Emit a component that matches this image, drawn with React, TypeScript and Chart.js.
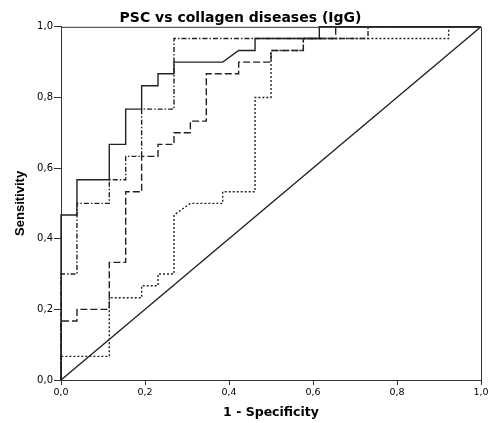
import React, { useEffect, useRef } from "react";
import { Chart, registerables } from "chart.js";

Chart.register(...registerables);

const chartTitle = "PSC vs collagen diseases (IgG)";
const xTitle = "1 - Specificity";
const yTitle = "Sensitivity";

const tickValues = [0, 0.2, 0.4, 0.6, 0.8, 1.0];
const tickLabels = ["0,0", "0,2", "0,4", "0,6", "0,8", "1,0"];

// Curve 1 (solid)
const solidFpr = [0, 0, 0.038, 0.038, 0.115, 0.115, 0.154, 0.154, 0.192, 0.192, 0.231, 0.231, 0.269, 0.269, 0.385, 0.423, 0.462, 0.462, 0.615, 0.615, 1];
const solidTpr = [0, 0.467, 0.467, 0.567, 0.567, 0.667, 0.667, 0.767, 0.767, 0.833, 0.833, 0.867, 0.867, 0.9, 0.9, 0.933, 0.933, 0.967, 0.967, 1, 1];

// Curve 2 (dash-dot)
const dashDotFpr = [0, 0, 0.038, 0.038, 0.115, 0.115, 0.154, 0.154, 0.192, 0.192, 0.269, 0.269, 0.731, 0.731, 1];
const dashDotTpr = [0, 0.3, 0.3, 0.5, 0.5, 0.567, 0.567, 0.633, 0.633, 0.767, 0.767, 0.967, 0.967, 1, 1];

// Curve 3 (dashed)
const dashedFpr = [0, 0, 0.038, 0.038, 0.115, 0.115, 0.154, 0.154, 0.192, 0.192, 0.231, 0.231, 0.269, 0.269, 0.308, 0.308, 0.346, 0.346, 0.423, 0.423, 0.5, 0.5, 0.577, 0.577, 0.654, 0.654, 1];
const dashedTpr = [0, 0.167, 0.167, 0.2, 0.2, 0.333, 0.333, 0.533, 0.533, 0.633, 0.633, 0.667, 0.667, 0.7, 0.7, 0.733, 0.733, 0.867, 0.867, 0.9, 0.9, 0.933, 0.933, 0.967, 0.967, 1, 1];

// Curve 4 (dotted)
const dottedFpr = [0, 0, 0.115, 0.115, 0.192, 0.192, 0.231, 0.231, 0.269, 0.269, 0.308, 0.385, 0.385, 0.462, 0.462, 0.5, 0.5, 0.577, 0.577, 0.923, 0.923, 1];
const dottedTpr = [0, 0.067, 0.067, 0.233, 0.233, 0.267, 0.267, 0.3, 0.3, 0.467, 0.5, 0.5, 0.533, 0.533, 0.8, 0.8, 0.933, 0.933, 0.967, 0.967, 1, 1];

// Reference line
const refFpr = [0, 1];
const refTpr = [0, 1];

const toPoints = (xs: number[], ys: number[]) => xs.map((x, i) => ({ x, y: ys[i] }));

const LINE = "#222";

const framePlugin = {
  id: "frame",
  afterDraw(chart: any) {
    const { ctx, chartArea } = chart;
    ctx.save();
    ctx.strokeStyle = "#333";
    ctx.lineWidth = 1;
    ctx.beginPath();
    ctx.moveTo(chartArea.left, chartArea.top + 0.5);
    ctx.lineTo(chartArea.right + 0.5, chartArea.top + 0.5);
    ctx.lineTo(chartArea.right + 0.5, chartArea.bottom);
    ctx.stroke();
    ctx.restore();
  },
};

export default function App() {
  const ref = useRef<HTMLCanvasElement | null>(null);

  useEffect(() => {
    if (!ref.current) return;
    const mk = (xs: number[], ys: number[], dash: number[], w: number) => ({
      data: toPoints(xs, ys),
      showLine: true,
      borderColor: LINE,
      backgroundColor: LINE,
      borderWidth: w,
      borderDash: dash,
      pointRadius: 0,
      tension: 0,
      clip: false as any,
    });
    const chart = new Chart(ref.current, {
      type: "scatter",
      data: {
        datasets: [
          mk(refFpr, refTpr, [], 1.4),
          mk(dottedFpr, dottedTpr, [2, 2], 1.4),
          mk(dashedFpr, dashedTpr, [7, 3], 1.4),
          mk(dashDotFpr, dashDotTpr, [5, 2, 1.5, 2], 1.4),
          mk(solidFpr, solidTpr, [], 1.4),
        ],
      },
      options: {
        animation: false,
        responsive: true,
        maintainAspectRatio: false,
        layout: { padding: { left: 0, right: 14, top: 0, bottom: 0 } },
        plugins: {
          legend: { display: false },
          tooltip: { enabled: false },
          title: {
            display: true,
            text: chartTitle,
            color: "#000",
            font: { family: "DejaVu Sans", size: 14, weight: "bold" },
            padding: { top: 10, bottom: 0 },
          },
        },
        scales: {
          x: {
            type: "linear",
            min: 0,
            max: 1,
            afterFit: (s: any) => {
              s.height = 43;
            },
            afterBuildTicks: (s: any) => {
              s.ticks = tickValues.map((v) => ({ value: v }));
            },
            ticks: {
              color: "#000",
              font: { family: "DejaVu Sans", size: 9.5 },
              padding: 2,
              maxRotation: 0,
              callback: (v: any) => tickLabels[tickValues.findIndex((t) => Math.abs(t - Number(v)) < 1e-6)] ?? "",
            },
            grid: { drawOnChartArea: false, drawTicks: true, tickLength: 5, color: "#333" },
            border: { display: true, color: "#333", width: 1 },
            title: {
              display: true,
              text: xTitle,
              color: "#000",
              font: { family: "DejaVu Sans", size: 12.5, weight: "bold" },
              padding: { top: 0, bottom: 3 },
            },
          },
          y: {
            type: "linear",
            min: 0,
            max: 1,
            afterFit: (s: any) => {
              s.width = 61;
            },
            afterBuildTicks: (s: any) => {
              s.ticks = tickValues.map((v) => ({ value: v }));
            },
            ticks: {
              color: "#000",
              font: { family: "DejaVu Sans", size: 10 },
              padding: 1,
              callback: (v: any) => tickLabels[tickValues.findIndex((t) => Math.abs(t - Number(v)) < 1e-6)] ?? "",
            },
            grid: { drawOnChartArea: false, drawTicks: true, tickLength: 7, color: "#333" },
            border: { display: true, color: "#333", width: 1 },
            title: {
              display: true,
              text: yTitle,
              color: "#000",
              font: { family: "Liberation Sans", size: 13, weight: "bold" },
              padding: { top: 13, bottom: 0 },
            },
          },
        },
      },
      plugins: [framePlugin],
    });
    return () => chart.destroy();
  }, []);

  return (
    <div style={{ position: "absolute", left: 0, top: 0, width: 495, height: 423, background: "#fff" }}>
      <canvas ref={ref} />
    </div>
  );
}
